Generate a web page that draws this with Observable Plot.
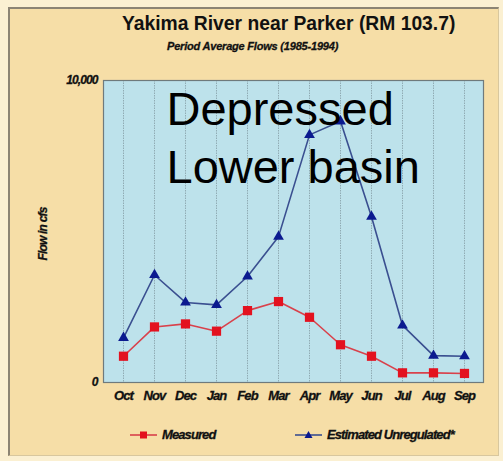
<!DOCTYPE html>
<html>
<head>
<meta charset="utf-8">
<script src="https://cdn.jsdelivr.net/npm/d3@7"></script>
<script src="https://cdn.jsdelivr.net/npm/@observablehq/plot@0.6"></script>
<style>
  html, body { margin: 0; padding: 0; }
  body { width: 503px; height: 461px; background: #fbf0d2; position: relative; overflow: hidden; font-family: "Liberation Sans", Arial, sans-serif; }
  #panel { position: absolute; left: 8px; top: 7px; width: 488px; height: 446px; background: #f6dea7; border-left: 2px solid #8c8474; border-top: 2px solid #8c8474; border-right: 1px solid #d8c79e; border-bottom: 1px solid #d8c79e; }
  #chart { position: absolute; left: 0; top: 0; }
  .title { position: absolute; left: 122px; top: 13px; font: bold 19.3px "Liberation Sans", Arial, sans-serif; color: #111; white-space: nowrap; }
  .subtitle { position: absolute; left: 167px; top: 40px; font: italic bold 11px "Liberation Sans Narrow", "Liberation Sans", sans-serif; letter-spacing: -0.2px; color: #111; white-space: nowrap; -webkit-text-stroke: 0.3px #111; }
  .ylabel { position: absolute; left: 43px; top: 234px; transform: translate(-50%, -50%) rotate(-90deg); font: italic bold 12px "Liberation Sans Narrow", "Liberation Sans", sans-serif; letter-spacing: -0.8px; color: #111; white-space: nowrap; -webkit-text-stroke: 0.3px #111; }
  .legend { position: absolute; top: 427px; font: italic bold 13px "Liberation Sans Narrow", "Liberation Sans", sans-serif; letter-spacing: -0.9px; color: #111; white-space: nowrap; display: flex; align-items: center; -webkit-text-stroke: 0.3px #111; }
  .legend svg { margin-right: 4px; -webkit-text-stroke: 0; }
  g[aria-label="x-axis tick label"] text, g[aria-label="y-axis tick label"] text { letter-spacing: -0.9px; stroke: #111; stroke-width: 0.3px; }
</style>
</head>
<body>
<div id="panel"></div>
<div id="chart"></div>
<div class="title">Yakima River near Parker (RM 103.7)</div>
<div class="subtitle">Period Average Flows (1985-1994)</div>
<div class="ylabel">Flow in cfs</div>
<div class="legend" style="left:130px">
  <svg width="28" height="10"><line x1="0" y1="5" x2="27" y2="5" stroke="#d9414b" stroke-width="1.6"/><rect x="10" y="1.5" width="7" height="7" fill="#e3121f"/></svg>Measured
</div>
<div class="legend" style="left:295px">
  <svg width="28" height="10"><line x1="0" y1="5" x2="27" y2="5" stroke="#3a4f90" stroke-width="1.6"/><path d="M13.5,1 L17.5,8 L9.5,8 Z" fill="#0b1a8f"/></svg>Estimated Unregulated*
</div>
<script>
const months = ["Oct","Nov","Dec","Jan","Feb","Mar","Apr","May","Jun","Jul","Aug","Sep"];
const measured = [870, 1840, 1940, 1700, 2380, 2680, 2160, 1250, 870, 320, 320, 300];
const estimated = [1480, 3560, 2650, 2570, 3510, 4830, 8200, 8650, 5490, 1890, 890, 870];
const yTicks = [0, 10000];
const annotation = "Depressed\nLower basin";

const rows = months.map((m, i) => ({month: m, measured: measured[i], estimated: estimated[i]}));

const chart = Plot.plot({
  width: 503,
  height: 461,
  marginLeft: 103,
  marginRight: 20,
  marginTop: 80,
  marginBottom: 79,
  style: {background: "transparent", fontFamily: "'Liberation Sans Narrow', 'Liberation Sans', sans-serif", color: "#111"},
  x: {type: "point", domain: months, padding: 0.5},
  y: {domain: [0, 10000]},
  marks: [
    Plot.frame({fill: "#bde2eb"}),
    Plot.ruleX(months, {stroke: "#7d969c", strokeOpacity: 0.7, strokeWidth: 1, strokeDasharray: "1.5,1"}),
    Plot.frame({stroke: "#6f7a7c", strokeWidth: 1.2}),
    Plot.axisX({ticks: months, tickSize: 0, tickPadding: 8, fontSize: 13, fontWeight: "bold", fontStyle: "italic", label: null}),
    Plot.axisY({ticks: yTicks, tickSize: 0, tickPadding: 6, fontSize: 12, fontWeight: "bold", fontStyle: "italic", tickFormat: d3.format(","), label: null}),
    Plot.lineY(rows, {x: "month", y: "estimated", stroke: "#3a4f90", strokeWidth: 1.6}),
    Plot.lineY(rows, {x: "month", y: "measured", stroke: "#d9414b", strokeWidth: 1.6}),
    Plot.dot(rows, {x: "month", y: "estimated", symbol: "triangle", r: 4, fill: "#0b1a8f"}),
    Plot.dot(rows, {x: "month", y: "measured", symbol: "square", r: 5.2, fill: "#e3121f"}),
    Plot.text([annotation], {frameAnchor: "top-left", dx: 63, dy: 4, lineAnchor: "top", textAnchor: "start", fontSize: 47, lineHeight: 1.22, fill: "#000", fontFamily: "'Liberation Sans', Arial, sans-serif"})
  ]
});
document.getElementById("chart").appendChild(chart);
</script>
</body>
</html>
